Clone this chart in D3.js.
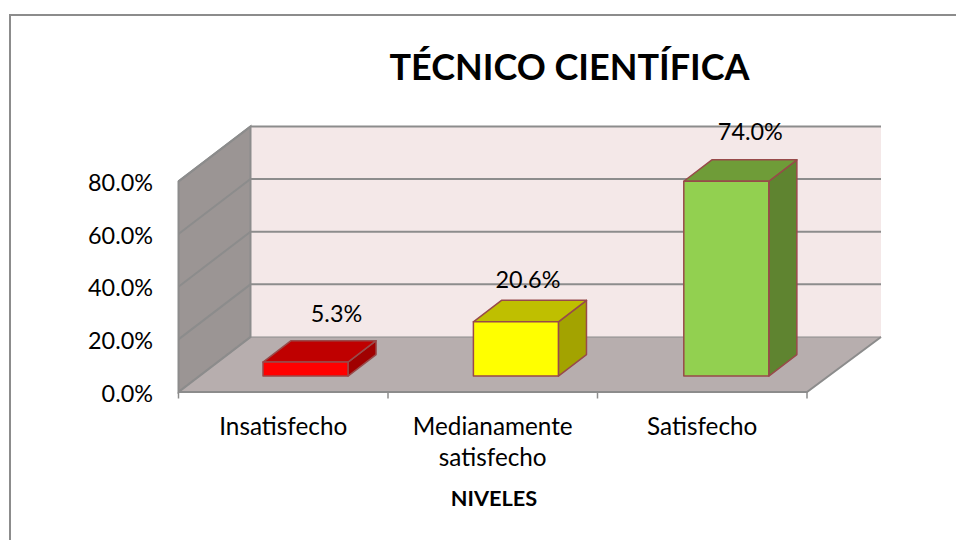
<!DOCTYPE html>
<html>
<head>
<meta charset="utf-8">
<script src="https://cdn.jsdelivr.net/npm/d3@7"></script>
<style>
  html, body { margin: 0; padding: 0; background: #fff; }
  svg { display: block; }
  text { font-family: Lato, "Open Sans", sans-serif; fill: #000; }
</style>
</head>
<body>
<div id="chart"></div>
<script>
const titleText = "TÉCNICO CIENTÍFICA";
const xAxisTitle = "NIVELES";
const categories = ["Insatisfecho", "Medianamente satisfecho", "Satisfecho"];
const values = [5.3, 20.6, 74.0];
const yTicks = [0, 20, 40, 60, 80];

const frontColors = ["#ff0000", "#ffff00", "#92d050"];
const topColors = ["#bf0000", "#bfbf00", "#6f9c38"];
const sideColors = ["#a00000", "#a3a300", "#5f8430"];

const width = 956, height = 540;
const svg = d3.select("#chart").append("svg")
  .attr("width", width)
  .attr("height", height);

// chart frame, only top and left edges show in the picture
svg.append("path")
  .attr("d", `M10,${height}V15H${width}`)
  .attr("fill", "none")
  .attr("stroke", "#8c8c8c")
  .attr("stroke-width", 2);

const x = d3.scaleBand().domain(categories).range([178.5, 807]);
const y = d3.scaleLinear().domain([0, 80]).range([392, 181.4]);

// fake 3d: depth 0 is the front plane, depth 1 is the back wall
const depthX = 72, depthY = 55;
const px = (sx, sy, depth) => [sx + depth * depthX, sy - depth * depthY];
const poly = pts => "M" + pts.map(p => p.join(",")).join("L") + "Z";

const edge = "#8c8c8c";
const [left, right] = x.range();

svg.append("path") // back wall
  .attr("d", poly([px(left, y(0), 1), px(right + 2, y(0), 1), px(right + 2, y(80), 1), px(left, y(80), 1)]))
  .attr("fill", "#f4e8e8");
svg.append("path") // floor
  .attr("d", poly([px(left, y(0), 0), px(right, y(0), 0), px(right + 2, y(0), 1), px(left, y(0), 1)]))
  .attr("fill", "#b7aeae");
svg.append("path") // side wall
  .attr("d", poly([px(left, y(0), 0), px(left, y(0), 1), px(left, y(80), 1), px(left, y(80), 0)]))
  .attr("fill", "#9b9594")
  .attr("stroke", edge)
  .attr("stroke-width", 2);

// gridlines run along the side wall and then across the back
const grid = svg.append("g").attr("fill", "none").attr("stroke", edge);
yTicks.forEach(t => {
  const a = px(left, y(t), 0), b = px(left, y(t), 1), c = px(right + 2, y(t), 1);
  grid.append("path").attr("d", `M${a}L${b}L${c}`)
    .attr("stroke-width", 2)
    .attr("stroke-opacity", t === 0 ? 0.5 : 1);
});

// floor front and right edges
svg.append("path")
  .attr("d", `M${px(left, y(0), 0)}L${px(right, y(0), 0)}L${px(right + 2, y(0), 1)}`)
  .attr("fill", "none")
  .attr("stroke", edge)
  .attr("stroke-width", 2);

// y axis labels, the axis line itself is the side wall edge
const yAxis = svg.append("g")
  .attr("transform", `translate(${left},1.5)`)
  .call(d3.axisLeft(y).tickValues(yTicks).tickSize(0).tickPadding(25.5)
    .tickFormat(d => d3.format(".1f")(d) + "%"));
yAxis.select(".domain").remove();
yAxis.selectAll("text").attr("font-size", 23.4).style("font-family", "Lato");

// x axis labels and tick marks on the band edges
const xAxis = svg.append("g")
  .attr("transform", `translate(0,${y(0)})`)
  .call(d3.axisBottom(x).tickSize(0).tickFormat(""));
xAxis.select(".domain").remove();
xAxis.selectAll(".tick text").remove();

svg.append("g").selectAll("line")
  .data(categories.map(c => x(c)).concat(right))
  .join("line")
  .attr("x1", d => d).attr("x2", d => d)
  .attr("y1", y(0)).attr("y2", y(0) + 6.5)
  .attr("stroke", edge)
  .attr("stroke-width", 1.5);

const catLabels = svg.append("g").attr("text-anchor", "middle").attr("font-size", 24.3);
categories.forEach(c => {
  const t = catLabels.append("text").attr("x", x(c) + x.bandwidth() / 2);
  const lines = c === "Medianamente satisfecho" ? c.split(" ") : [c];
  lines.forEach((s, i) => {
    t.append("tspan").attr("x", x(c) + x.bandwidth() / 2).attr("y", 435 + i * 31).text(s);
  });
});

svg.append("text")
  .attr("x", 494).attr("y", 506)
  .attr("text-anchor", "middle")
  .attr("font-size", 21.7)
  .attr("font-weight", 700)
  .text(xAxisTitle);

svg.append("text")
  .attr("x", 569.5).attr("y", 80)
  .attr("text-anchor", "middle")
  .attr("font-size", 36)
  .attr("font-weight", 700)
  .text(titleText);

// bars sit a bit inside the floor, with their own slightly wider step
const barX = d3.scaleBand().domain(categories).range([200.3, 831.5]);
const barW = 85;
const barFront = 0.29, barBack = 0.68;
const barY = v => y(v) - barFront * depthY;
const off = barBack - barFront;

const bars = svg.append("g").selectAll("g")
  .data(categories.map((c, i) => ({ c, v: values[i], i })))
  .join("g")
  .attr("stroke", "#984a4a")
  .attr("stroke-width", 1.5)
  .attr("stroke-linejoin", "round");

bars.each(function (d) {
  const g = d3.select(this);
  const x0 = barX(d.c) + barX.bandwidth() / 2 - barW / 2, x1 = x0 + barW;
  const y0 = barY(0), y1 = barY(d.v);
  g.append("path").attr("fill", sideColors[d.i])
    .attr("d", poly([[x1, y0], px(x1, y0, off), px(x1, y1, off), [x1, y1]]));
  g.append("path").attr("fill", topColors[d.i])
    .attr("d", poly([[x0, y1], [x1, y1], px(x1, y1, off), px(x0, y1, off)]));
  g.append("rect").attr("fill", frontColors[d.i])
    .attr("x", x0).attr("y", y1)
    .attr("width", barW).attr("height", y0 - y1);
});

// data labels were dragged by hand in the original, so each has its own nudge
const labelNudge = [[31, -40], [12, -34], [24, -41]];
svg.append("g").attr("text-anchor", "middle").attr("font-size", 23.4)
  .selectAll("text")
  .data(categories.map((c, i) => ({ c, v: values[i], i })))
  .join("text")
  .attr("x", d => barX(d.c) + barX.bandwidth() / 2 + labelNudge[d.i][0])
  .attr("y", d => barY(d.v) + labelNudge[d.i][1])
  .text(d => d3.format(".1f")(d.v) + "%");
</script>
</body>
</html>
